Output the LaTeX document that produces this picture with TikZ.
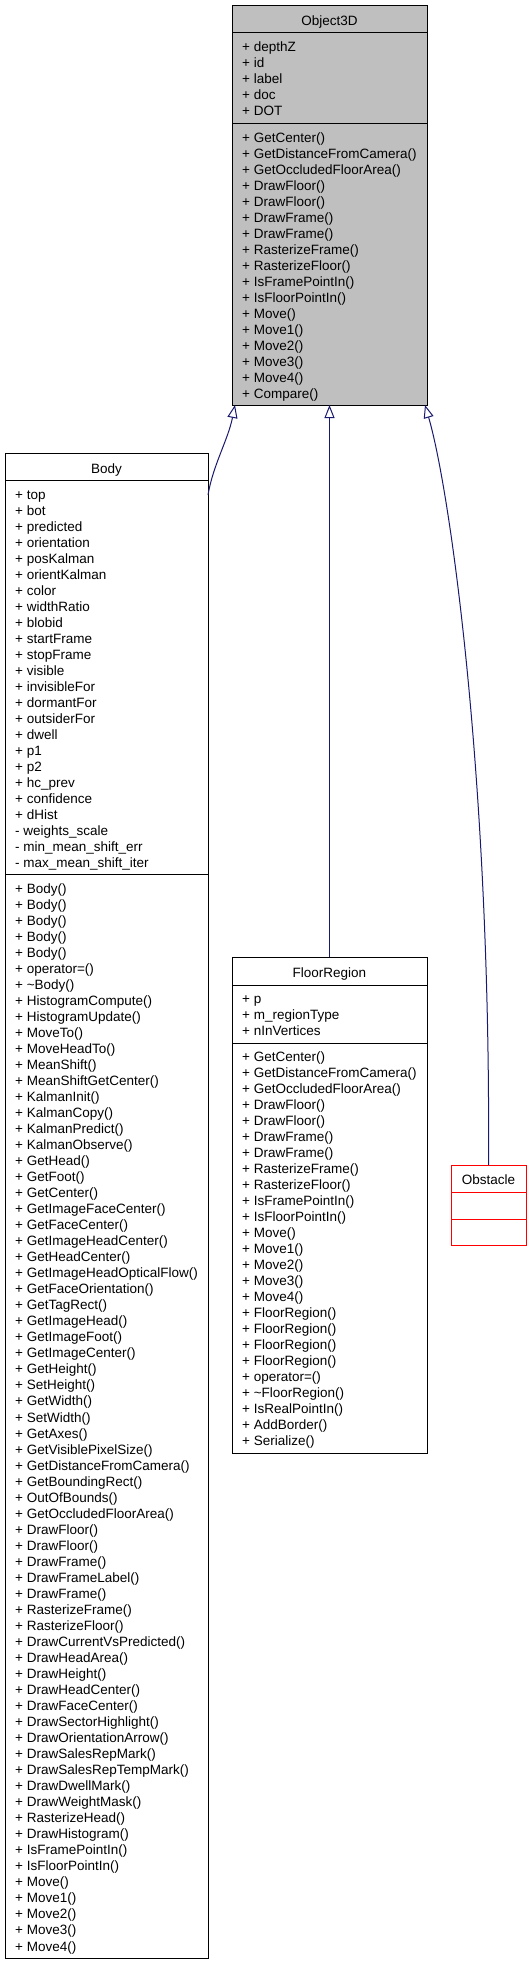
\documentclass[tikz,border=0pt]{standalone}
\usepackage{fontspec}
\setmainfont{Liberation Sans}
\usetikzlibrary{arrows.meta,calc}
\definecolor{edgeblue}{HTML}{191970}
\definecolor{headgray}{HTML}{BFBFBF}
\tikzset{
  box/.style={draw=black, line width=1pt, inner sep=0pt, outer sep=0pt},
  txt/.style={anchor=base west, inner sep=0pt, font=\fontsize{13.5}{16}\selectfont},
  ttl/.style={anchor=base, inner sep=0pt, font=\fontsize{13.5}{16}\selectfont},
  sep/.style={line width=1pt},
  edge/.style={draw=edgeblue, line width=1pt, -{Triangle[open, length=13pt, width=10pt]}}
}
\begin{document}
\begin{tikzpicture}[x=1pt,y=-1pt]
\useasboundingbox (0,0) rectangle (530,1962);
\fill[white] (0,0) rectangle (530,1962);

% ---------- Object3D ----------
\node[box, fill=headgray, minimum width=195pt, minimum height=400pt] (obj) at (329.5,205) {};
\draw[sep] ($(obj.north west)+(0,27)$) -- ($(obj.north east)+(0,27)$);
\draw[sep] ($(obj.north west)+(0,118)$) -- ($(obj.north east)+(0,118)$);
\node[ttl] (objt) at (329.5,25) {Object3D};
\foreach \t [count=\i from 0] in {depthZ,id,label,doc,DOT}
  \node[txt] (obja\i) at (242,51+16*\i) {+ \t};
\foreach \t [count=\i from 0] in {GetCenter(),GetDistanceFromCamera(),GetOccludedFloorArea(),DrawFloor(),DrawFloor(),DrawFrame(),DrawFrame(),RasterizeFrame(),RasterizeFloor(),IsFramePointIn(),IsFloorPointIn(),Move(),Move1(),Move2(),Move3(),Move4(),Compare()}
  \node[txt] (objm\i) at (242,142+16*\i) {+ \t};

% ---------- Body ----------
\node[box, minimum width=203pt, minimum height=1505pt] (body) at (106.5,1205.5) {};
\draw[sep] ($(body.north west)+(0,27)$) -- ($(body.north east)+(0,27)$);
\draw[sep] ($(body.north west)+(0,421)$) -- ($(body.north east)+(0,421)$);
\node[ttl] (bodyt) at (106.5,473) {Body};
\foreach \t [count=\i from 0] in {+ top,+ bot,+ predicted,+ orientation,+ posKalman,+ orientKalman,+ color,+ widthRatio,+ blobid,+ startFrame,+ stopFrame,+ visible,+ invisibleFor,+ dormantFor,+ outsiderFor,+ dwell,+ p1,+ p2,+ hc\_prev,+ confidence,+ dHist,- weights\_scale,- min\_mean\_shift\_err,- max\_mean\_shift\_iter}
  \node[txt] (bodya\i) at (15,499+16*\i) {\t};
\foreach \t [count=\i from 0] in {Body(),Body(),Body(),Body(),Body(),operator=(),\textasciitilde Body(),HistogramCompute(),HistogramUpdate(),MoveTo(),MoveHeadTo(),MeanShift(),MeanShiftGetCenter(),KalmanInit(),KalmanCopy(),KalmanPredict(),KalmanObserve(),GetHead(),GetFoot(),GetCenter(),GetImageFaceCenter(),GetFaceCenter(),GetImageHeadCenter(),GetHeadCenter(),GetImageHeadOpticalFlow(),GetFaceOrientation(),GetTagRect(),GetImageHead(),GetImageFoot(),GetImageCenter(),GetHeight(),SetHeight(),GetWidth(),SetWidth(),GetAxes(),GetVisiblePixelSize(),GetDistanceFromCamera(),GetBoundingRect(),OutOfBounds(),GetOccludedFloorArea(),DrawFloor(),DrawFloor(),DrawFrame(),DrawFrameLabel(),DrawFrame(),RasterizeFrame(),RasterizeFloor(),DrawCurrentVsPredicted(),DrawHeadArea(),DrawHeight(),DrawHeadCenter(),DrawFaceCenter(),DrawSectorHighlight(),DrawOrientationArrow(),DrawSalesRepMark(),DrawSalesRepTempMark(),DrawDwellMark(),DrawWeightMask(),RasterizeHead(),DrawHistogram(),IsFramePointIn(),IsFloorPointIn(),Move(),Move1(),Move2(),Move3(),Move4()}
  \node[txt] (bodym\i) at (15,893+16.03*\i) {+ \t};

% ---------- FloorRegion ----------
\node[box, minimum width=195pt, minimum height=496pt] (floor) at (329.5,1205) {};
\draw[sep] ($(floor.north west)+(0,28)$) -- ($(floor.north east)+(0,28)$);
\draw[sep] ($(floor.north west)+(0,86)$) -- ($(floor.north east)+(0,86)$);
\node[ttl] (floort) at (329.5,977) {FloorRegion};
\foreach \t [count=\i from 0] in {p,m\_regionType,nInVertices}
  \node[txt] (floora\i) at (242,1003.5+16*\i) {+ \t};
\foreach \t [count=\i from 0] in {GetCenter(),GetDistanceFromCamera(),GetOccludedFloorArea(),DrawFloor(),DrawFloor(),DrawFrame(),DrawFrame(),RasterizeFrame(),RasterizeFloor(),IsFramePointIn(),IsFloorPointIn(),Move(),Move1(),Move2(),Move3(),Move4(),FloorRegion(),FloorRegion(),FloorRegion(),FloorRegion(),operator=(),\textasciitilde FloorRegion(),IsRealPointIn(),AddBorder(),Serialize()}
  \node[txt] (floorm\i) at (242,1061.5+16*\i) {+ \t};

% ---------- Obstacle ----------
\node[box, draw=red, minimum width=75pt, minimum height=80pt] (obst) at (488.5,1205) {};
\draw[sep, red] ($(obst.north west)+(0,27)$) -- ($(obst.north east)+(0,27)$);
\draw[sep, red] ($(obst.north west)+(0,54)$) -- ($(obst.north east)+(0,54)$);
\node[ttl] (obstt) at (488.5,1184) {Obstacle};

% ---------- Inheritance edges ----------
\draw[edge] ($(body.north east)+(0,42)$) .. controls (213,465) and (228,440) .. ($(obj.south west)+(3,0)$);
\draw[edge] (floor.north) -- (obj.south);
\draw[edge] (obst.north) .. controls (491,780) and (450,490) .. ($(obj.south east)+(-2,0)$);
\end{tikzpicture}
\end{document}
